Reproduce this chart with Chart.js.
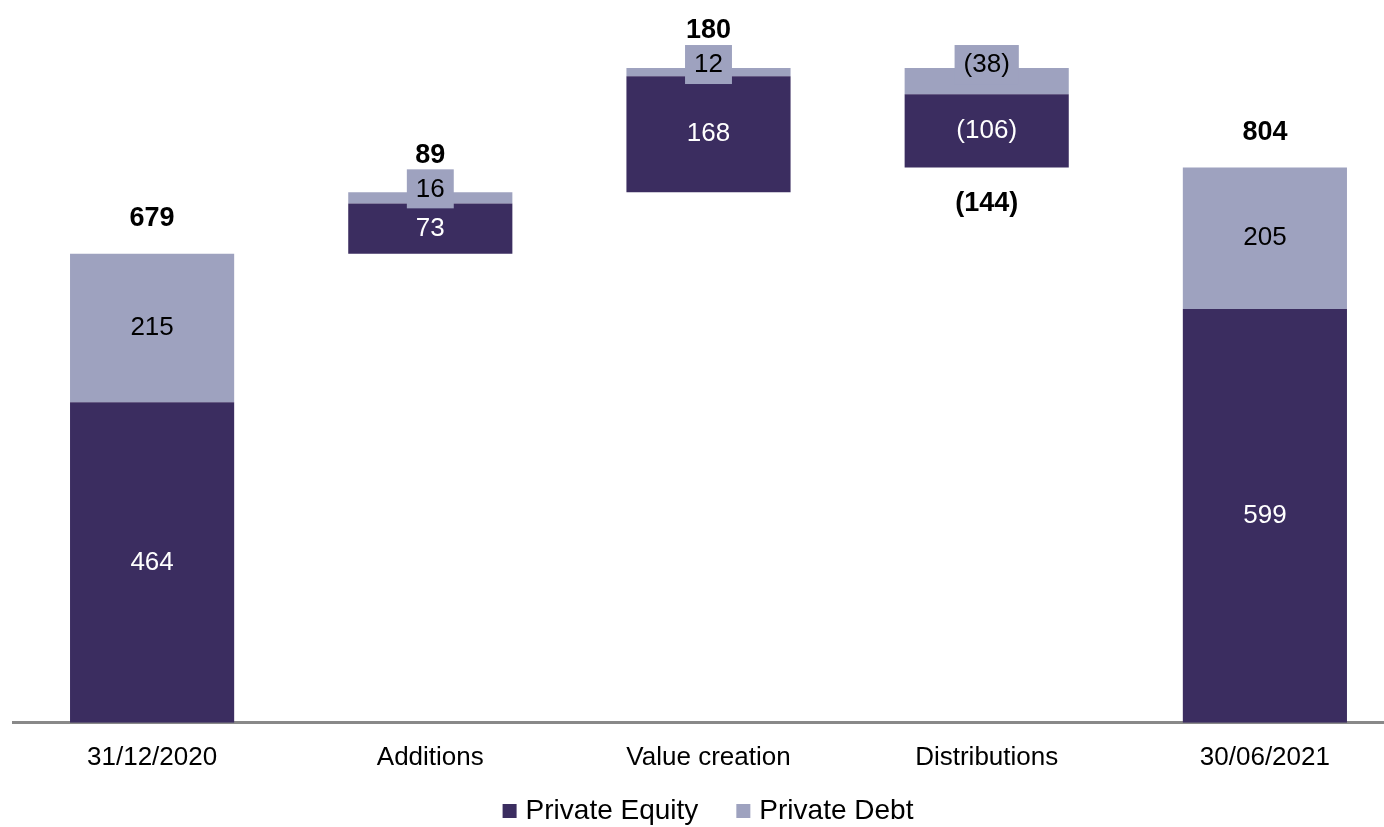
<!DOCTYPE html>
<html>
<head>
<meta charset="utf-8">
<script src="https://cdn.jsdelivr.net/npm/chart.js@4/dist/chart.umd.min.js"></script>
<style>
    html, body { margin: 0; padding: 0; background: #fff; overflow: hidden; }
    #wrap { position: relative; width: 1404px; height: 827px; }
</style>
</head>
<body>
<div id="wrap"><canvas id="bridgeChart"></canvas></div>
<script>
// NAV bridge, EUR m
const categories = ['31/12/2020', 'Additions', 'Value creation', 'Distributions', '30/06/2021'];
const privateEquity = [464, 73, 168, -106, 599];
const privateDebt = [215, 16, 12, -38, 205];
// first and last columns are totals, the rest are movements
const isTotal = [true, false, false, false, true];

const FONT = '"Liberation Sans", Arial, sans-serif';
const PE_COLOR = '#3b2d60';
const PD_COLOR = '#9ea2bf';

// Build floating ranges for the waterfall
const peRanges = [];
const pdRanges = [];
let running = 0;
categories.forEach((c, i) => {
    const pe = privateEquity[i];
    const pd = privateDebt[i];
    if (isTotal[i]) {
        peRanges.push([0, pe]);
        pdRanges.push([pe, pe + pd]);
        running = pe + pd;
    } else if (pe + pd >= 0) {
        peRanges.push([running, running + pe]);
        pdRanges.push([running + pe, running + pe + pd]);
        running += pe + pd;
    } else {
        // negative step: debt comes off the top first
        pdRanges.push([running + pd, running]);
        peRanges.push([running + pd + pe, running + pd]);
        running += pe + pd;
    }
});

function fmt(v) {
    return v < 0 ? '(' + Math.abs(v) + ')' : String(v);
}

// Segment values, column totals and boxed labels for thin segments
const labelPlugin = {
    id: 'bridgeLabels',
    afterDatasetsDraw(chart) {
        const ctx = chart.ctx;
        ctx.save();
        ctx.textAlign = 'center';
        ctx.textBaseline = 'middle';
        const boxTops = [];
        const raw = [privateEquity, privateDebt];
        [0, 1].forEach(di => {
            const meta = chart.getDatasetMeta(di);
            meta.data.forEach((bar, i) => {
                const top = Math.min(bar.y, bar.base);
                const bottom = Math.max(bar.y, bar.base);
                const text = fmt(raw[di][i]);
                ctx.font = '26px ' + FONT;
                if (bottom - top < 30) {
                    const w = ctx.measureText(text).width + 18;
                    const bTop = top - 23;
                    ctx.fillStyle = PD_COLOR;
                    ctx.fillRect(bar.x - w / 2, bTop, w, 39);
                    ctx.fillStyle = '#000';
                    ctx.fillText(text, bar.x, top - 3);
                    boxTops[i] = bTop;
                } else {
                    ctx.fillStyle = di === 0 ? '#fff' : '#000';
                    ctx.fillText(text, bar.x, (top + bottom) / 2);
                }
            });
        });

        // column totals in bold
        const peMeta = chart.getDatasetMeta(0);
        const pdMeta = chart.getDatasetMeta(1);
        ctx.font = 'bold 27px ' + FONT;
        ctx.fillStyle = '#000';
        categories.forEach((c, i) => {
            const total = privateEquity[i] + privateDebt[i];
            const a = peMeta.data[i], b = pdMeta.data[i];
            const top = Math.min(a.y, a.base, b.y, b.base);
            const bottom = Math.max(a.y, a.base, b.y, b.base);
            let y;
            if (total < 0) {
                y = bottom + 36;
            } else {
                y = top - 35;
                if (boxTops[i] !== undefined) y = Math.min(y, boxTops[i] - 14);
            }
            ctx.fillText(fmt(total), a.x, y);
        });
        ctx.restore();
    }
};

// Legend row under the axis: small squares with the series names
const legendPlugin = {
    id: 'bridgeLegend',
    afterDraw(chart) {
        const ctx = chart.ctx;
        const sets = chart.data.datasets;
        const box = 14, gap = 9, itemGap = 38;
        ctx.save();
        ctx.font = '28px ' + FONT;
        ctx.textBaseline = 'middle';
        ctx.textAlign = 'left';
        const widths = sets.map(ds => ctx.measureText(ds.label).width);
        const total = widths.reduce((s, w) => s + box + gap + w, 0) + itemGap * (sets.length - 1);
        let x = 708 - total / 2;
        const y = 811;
        sets.forEach((ds, i) => {
            ctx.fillStyle = ds.backgroundColor;
            ctx.fillRect(x, y - box / 2, box, box);
            ctx.fillStyle = '#000';
            ctx.fillText(ds.label, x + box + gap, y);
            x += box + gap + widths[i] + itemGap;
        });
        ctx.restore();
    }
};

new Chart(document.getElementById('bridgeChart'), {
    type: 'bar',
    data: {
        labels: categories,
        datasets: [{
            label: 'Private Equity',
            data: peRanges,
            backgroundColor: PE_COLOR,
            categoryPercentage: 1,
            barPercentage: 0.59
        }, {
            label: 'Private Debt',
            data: pdRanges,
            backgroundColor: PD_COLOR,
            categoryPercentage: 1,
            barPercentage: 0.59
        }]
    },
    options: {
        responsive: true,
        maintainAspectRatio: false,
        animation: false,
        layout: {
            padding: { left: 13, right: 0, top: 10, bottom: 43 }
        },
        scales: {
            x: {
                stacked: true,
                grid: { display: false },
                border: { color: '#898989', width: 3 },
                ticks: {
                    color: '#000',
                    padding: 11,
                    font: { family: FONT, size: 26 }
                }
            },
            y: {
                display: false,
                min: 0,
                max: 1032
            }
        },
        plugins: {
            legend: { display: false },
            tooltip: { enabled: false }
        }
    },
    plugins: [labelPlugin, legendPlugin]
});
</script>
</body>
</html>
